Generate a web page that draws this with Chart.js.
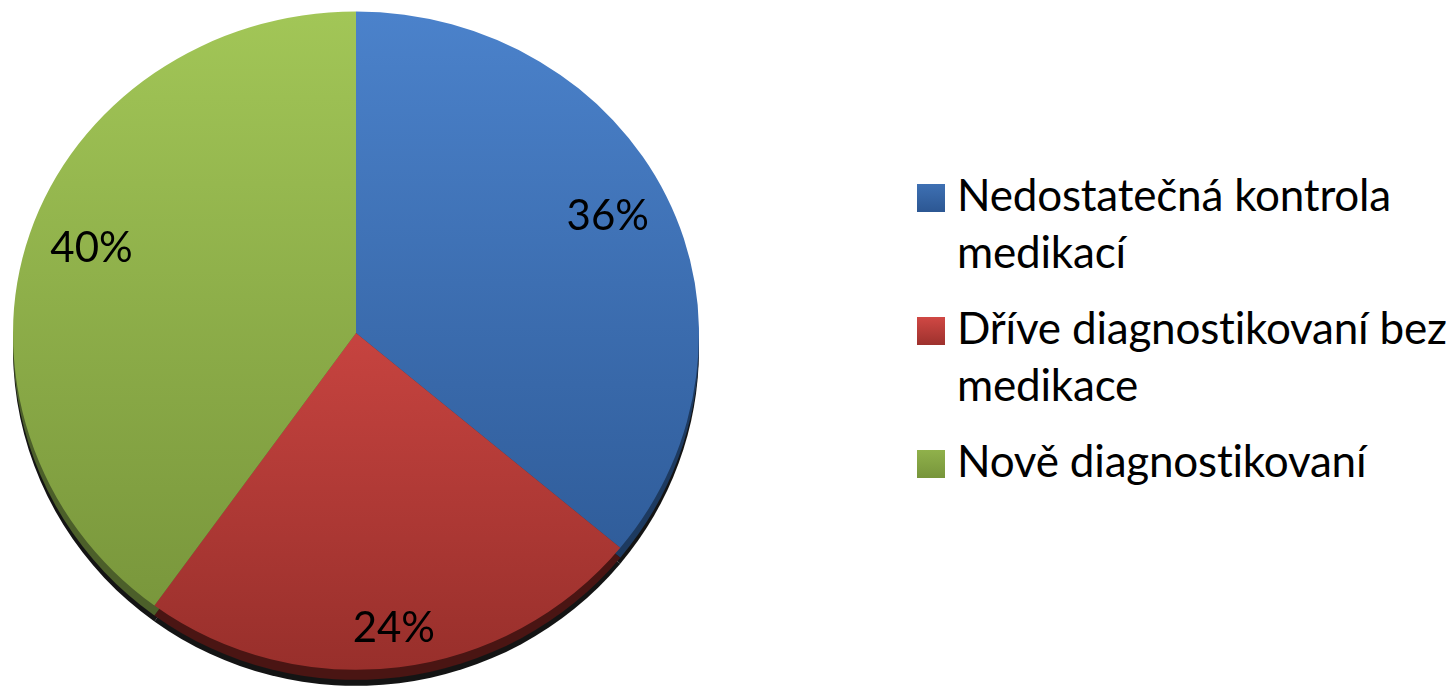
<!DOCTYPE html>
<html>
<head>
<meta charset="utf-8">
<title>Pie</title>
<script src="https://cdn.jsdelivr.net/npm/chart.js@4.4.1/dist/chart.umd.min.js"></script>
<style>
    html, body { margin: 0; padding: 0; background: #fff; }
    body { width: 1456px; height: 691px; position: relative; overflow: hidden; font-family: Lato, sans-serif; }
    #pie-wrap { position: absolute; left: 0; top: -10px; width: 712px; height: 700px; }
    #legend { position: absolute; left: 917px; top: 166px; list-style: none; margin: 0; padding: 0; }
    #legend li { display: flex; align-items: flex-start; margin-bottom: 19px; }
    #legend .box { width: 28px; height: 28px; margin-right: 12px; margin-top: 18px; flex: none; }
    #legend .txt { font-size: 44px; line-height: 57px; color: #000; white-space: nowrap; letter-spacing: -0.2px; }
</style>
</head>
<body>
<div id="pie-wrap"><canvas id="pie"></canvas></div>
<ul id="legend"></ul>
<script>
    // categories (each one split into the lines shown in the legend)
    const categories = [
        ['Nedostatečná kontrola', 'medikací'],
        ['Dříve diagnostikovaní bez', 'medikace'],
        ['Nově diagnostikovaní']
    ];
    // share of patients, %
    const shares = [36, 24, 40];

    // slice colours: top / bottom of the gradient and the dark rim
    const topColors = ['#4b82cb', '#f55854', '#a2c657'];
    const bottomColors = ['#2a5590', '#982f2b', '#759239'];
    const rimColors = ['#1d3a60', '#4a1513', '#4c5f2a'];

    // the disc is seen slightly tilted: far half flatter than near half
    const farScale = 0.937;
    const nearScale = 0.982;
    const rimDepth = 10;
    const shadowDepth = 16;

    function hexToRgb(hex) {
        const n = parseInt(hex.slice(1), 16);
        return [(n >> 16) & 255, (n >> 8) & 255, n & 255];
    }

    function mix(a, b, t) {
        const ca = hexToRgb(a), cb = hexToRgb(b);
        const c = ca.map((v, i) => Math.round(v + (cb[i] - v) * t));
        return `rgb(${c[0]}, ${c[1]}, ${c[2]})`;
    }

    function squash(ctx, x, y, dy, s) {
        ctx.translate(x, y + dy);
        ctx.scale(1, s);
        ctx.translate(-x, -y);
    }

    function slicePath(ctx, arc) {
        ctx.beginPath();
        ctx.moveTo(arc.x, arc.y);
        ctx.arc(arc.x, arc.y, arc.outerRadius, arc.startAngle, arc.endAngle);
        ctx.closePath();
    }

    // dark rim and drop shadow under the near half of the disc
    const rimPlugin = {
        id: 'rim',
        beforeDatasetsDraw(chart) {
            const meta = chart.getDatasetMeta(0);
            const ctx = chart.ctx;
            const { x, y } = meta.data[0];

            ctx.save();
            ctx.beginPath();
            ctx.rect(0, y, chart.width, chart.height - y);
            ctx.clip();

            ctx.save();
            squash(ctx, x, y, shadowDepth, nearScale);
            ctx.fillStyle = 'rgba(0, 0, 0, 0.92)';
            meta.data.forEach(arc => { slicePath(ctx, arc); ctx.fill(); });
            ctx.restore();

            ctx.save();
            squash(ctx, x, y, rimDepth, nearScale);
            meta.data.forEach((arc, i) => {
                slicePath(ctx, arc);
                ctx.fillStyle = rimColors[i];
                ctx.fill();
            });
            ctx.restore();

            ctx.restore();
        },
        beforeDatasetDraw(chart, args) {
            const ctx = chart.ctx;
            const arcs = args.meta.data;
            const { x, y } = arcs[0];
            [[0, y, farScale], [y, chart.height - y, nearScale]].forEach(([top, h, s]) => {
                ctx.save();
                ctx.beginPath();
                ctx.rect(0, top, chart.width, h);
                ctx.clip();
                squash(ctx, x, y, 0, s);
                arcs.forEach(arc => arc.draw(ctx));
                ctx.restore();
            });
            return false;
        }
    };

    // percentage text kept just inside the outer edge of each slice
    const percentPlugin = {
        id: 'percent',
        afterDatasetsDraw(chart) {
            const meta = chart.getDatasetMeta(0);
            const ctx = chart.ctx;
            const size = 42;
            ctx.save();
            ctx.font = `${size}px Lato, sans-serif`;
            ctx.fillStyle = '#000';
            ctx.textAlign = 'center';
            ctx.textBaseline = 'alphabetic';
            meta.data.forEach((arc, i) => {
                const text = shares[i] + '%';
                const w = ctx.measureText(text).width;
                const h = size * 0.72;
                const mid = (arc.startAngle + arc.endAngle) / 2;
                const c = Math.cos(mid), s = Math.sin(mid);
                const r = arc.outerRadius - 21 - (w / 2 * Math.abs(c) + h / 2 * Math.abs(s));
                // labels sit on the flat disc, only the near half is squashed
                const k = s > 0 ? nearScale : 1;
                const px = arc.x + c * r;
                const py = arc.y + s * r * k;
                ctx.fillText(text, px, py + h / 2);
            });
            ctx.restore();
        }
    };

    const ctx = document.getElementById('pie').getContext('2d');
    const chart = new Chart(ctx, {
        type: 'pie',
        data: {
            labels: categories,
            datasets: [{
                data: shares,
                borderWidth: 0,
                backgroundColor: (c) => {
                    const area = c.chart.chartArea;
                    const i = c.dataIndex;
                    if (!area) return topColors[i];
                    const g = c.chart.ctx.createLinearGradient(0, area.top, 0, area.bottom);
                    g.addColorStop(0, topColors[i]);
                    g.addColorStop(1, bottomColors[i]);
                    return g;
                }
            }]
        },
        options: {
            responsive: true,
            maintainAspectRatio: false,
            animation: false,
            layout: { padding: { top: 0, bottom: 14, left: 0, right: 0 } },
            plugins: {
                legend: { display: false },
                tooltip: { enabled: false }
            }
        },
        plugins: [rimPlugin, percentPlugin]
    });

    // legend built from the chart's own labels
    const legend = document.getElementById('legend');
    chart.data.labels.forEach((lines, i) => {
        const li = document.createElement('li');
        const box = document.createElement('span');
        box.className = 'box';
        box.style.background = `linear-gradient(${mix(topColors[i], bottomColors[i], 0.4)}, ${mix(topColors[i], bottomColors[i], 0.95)})`;
        const txt = document.createElement('span');
        txt.className = 'txt';
        txt.innerHTML = lines.join('<br>');
        li.appendChild(box);
        li.appendChild(txt);
        legend.appendChild(li);
    });
</script>
</body>
</html>
